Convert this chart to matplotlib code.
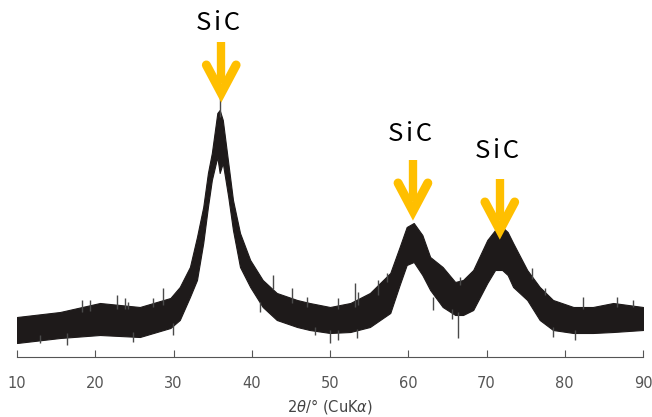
import matplotlib.pyplot as plt
import numpy as np

# XRD pattern (noise band: upper / lower edge), arbitrary counts
two_theta = [10.0, 15.5, 20.6, 25.7, 29.6, 30.8, 32.1, 33.0, 33.8, 34.4, 34.9, 35.6, 35.9,
             36.3, 37.0, 37.6, 38.5, 39.8, 41.4, 43.2, 45.8, 47.4, 50.0, 52.6, 55.1, 57.7,
             58.9, 59.8, 60.7, 61.8, 62.8, 64.4, 66.0, 67.0, 68.3, 70.1, 71.1, 72.0, 72.7,
             73.4, 75.2, 76.8, 78.5, 81.1, 83.6, 86.2, 90.0]
band_upper = [40, 45, 54, 50, 59, 70, 90, 120, 150, 184, 204, 244, 247,
              237, 194, 157, 124, 97, 77, 64, 57, 54, 50, 54, 64, 84,
              110, 130, 134, 122, 100, 90, 75, 77, 87, 117, 127, 130, 125,
              114, 87, 70, 57, 50, 50, 54, 50]
band_lower = [14, 19, 22, 20, 29, 37, 60, 77, 114, 150, 177, 200, 184,
              194, 160, 127, 90, 70, 50, 37, 30, 27, 24, 25, 30, 44,
              72, 92, 95, 82, 67, 50, 42, 42, 47, 74, 87, 87, 82,
              70, 57, 37, 27, 24, 24, 25, 27]

# single spikes sticking out of the band (position, bottom, top)
spike_x = [12.9, 16.4, 18.3, 19.3, 22.8, 23.8, 24.2, 24.8, 27.4, 28.7, 29.9, 35.9,
           41.1, 42.7, 45.1, 47.1, 48.1, 50.0, 51.0, 51.0, 53.2, 53.6, 53.5, 56.1, 57.3,
           63.2, 65.6, 66.4, 66.6, 75.8, 77.5, 78.5, 81.3, 82.3, 86.7, 88.7]
spike_lo = [14, 12, 45, 46, 48, 48, 48, 15, 50, 52, 22, 240,
            45, 68, 54, 50, 22, 14, 48, 17, 50, 52, 19, 62, 75,
            47, 38, 19, 72, 78, 62, 20, 17, 48, 50, 50]
spike_hi = [22, 24, 57, 57, 62, 59, 55, 25, 59, 69, 34, 264,
            55, 82, 69, 60, 30, 27, 59, 27, 74, 65, 28, 77, 84,
            60, 48, 45, 80, 89, 69, 30, 27, 60, 60, 57]

# peak markers
peak_pos = [36.1, 60.6, 71.7]
peak_tip = [262, 144, 125]
peak_text_y = [334, 223, 206]
peak_label = "S\u200ai\u200aC"

fig = plt.figure(figsize=(6.52, 4.17), dpi=100)
ax = fig.add_axes([17/652, 60/417, 626/652, 357/417])

ax.fill_between(two_theta, band_lower, band_upper, color="#1e1a1a", lw=0.8, ec="#1e1a1a")
ax.vlines(spike_x, spike_lo, spike_hi, color="#4a4a4a", lw=1.0)

# orange arrows
orange = "#ffbf00"
for x, tip, ty in zip(peak_pos, peak_tip, peak_text_y):
    ax.plot([x, x], [tip + 12, tip + 53], color=orange, lw=6, solid_capstyle="butt", zorder=5)
    ax.plot([x - 1.9, x, x + 1.9], [tip + 30, tip + 2, tip + 30], color=orange, lw=6.5,
            solid_capstyle="round", solid_joinstyle="miter", zorder=5)
    ax.text(x - 0.4, ty, peak_label, ha="center", va="center", fontsize=18.5,
            family=["Noto Sans CJK JP", "DejaVu Sans"], color="black")

ax.set_xlim(10, 90)
ax.set_ylim(0, 357)
ax.set_xticks(range(10, 91, 10))
ax.set_yticks([])
for s in ["left", "right", "top"]:
    ax.spines[s].set_visible(False)
ax.spines["bottom"].set_color("#555555")
ax.spines["bottom"].set_linewidth(0.8)
ax.tick_params(axis="x", direction="in", length=5, width=0.8, color="#555555",
               labelcolor="#555555", labelsize=10.5, pad=14)

fig.text(330/652, 1 - 406/417, r"2$\it{\theta}$/° (CuK$\it{\alpha}$)", ha="center", va="center",
         fontsize=10.5, color="#444444")

fig.savefig("out.png", dpi=100)
plt.close()
